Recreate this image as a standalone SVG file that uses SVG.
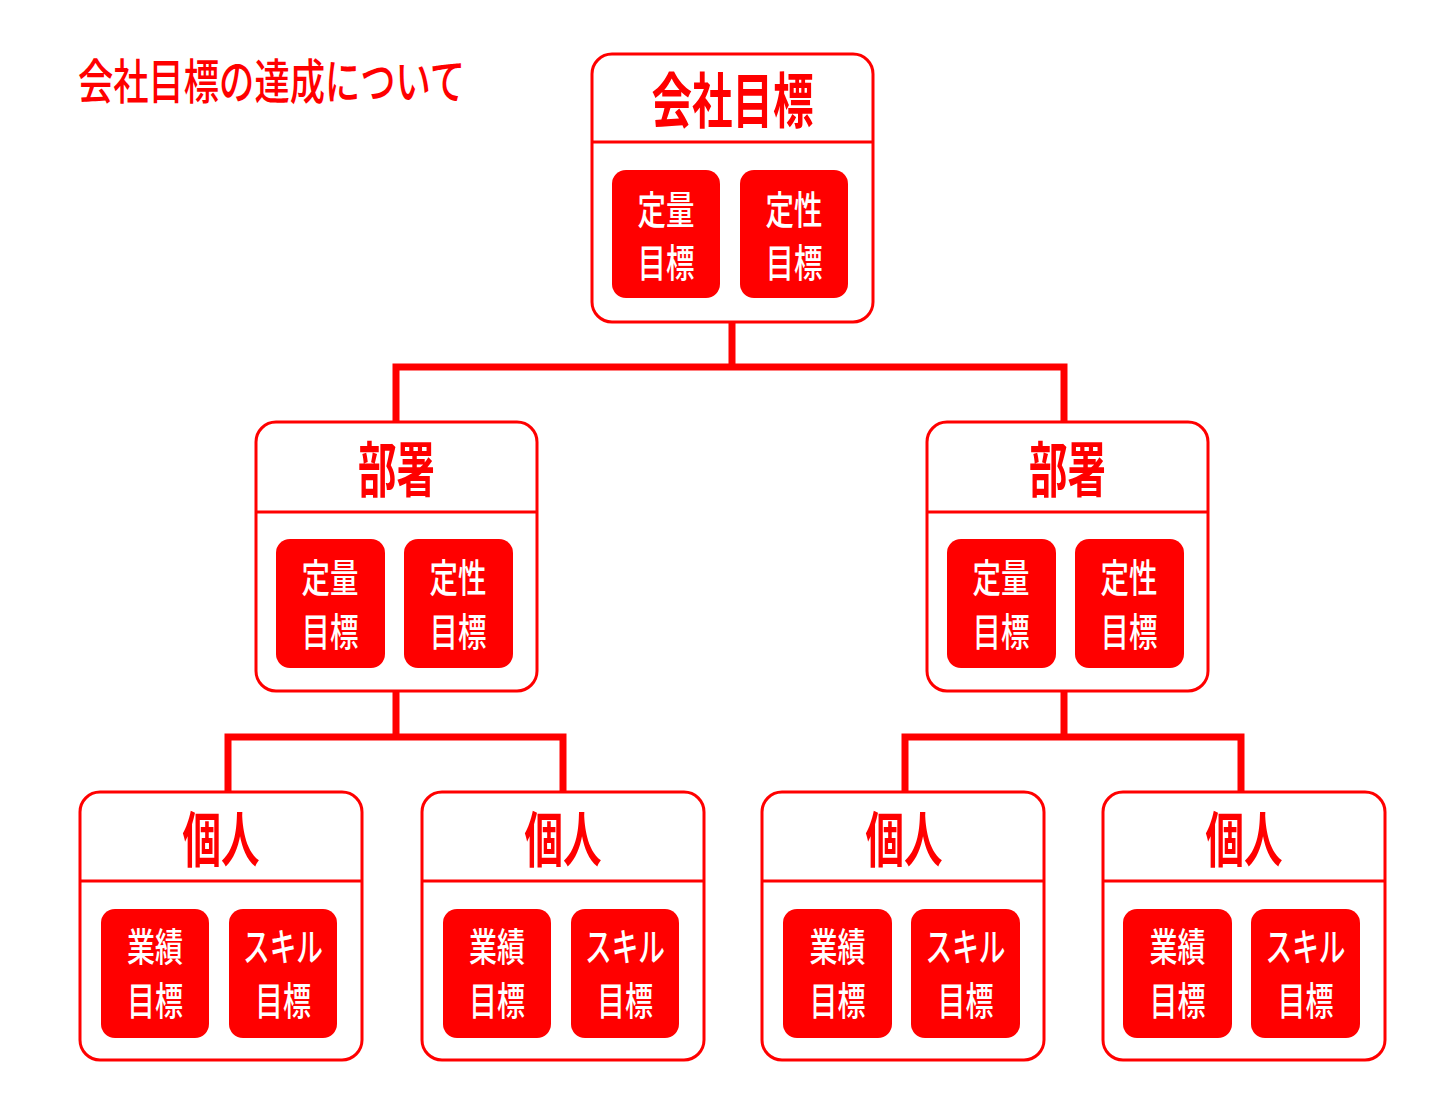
<svg xmlns="http://www.w3.org/2000/svg" width="1440" height="1111" viewBox="0 0 1440 1111">
<style>
.frame{fill:#fff;stroke:#ff0000;stroke-width:3}
.div{stroke:#ff0000;stroke-width:3}
.pill{fill:#ff0000}
.ttl{font-family:"Noto Sans CJK JP","Noto Sans CJK SC",sans-serif;font-size:60px;font-weight:600;fill:#ff0000;text-anchor:middle;dominant-baseline:central}
.in{font-family:"Noto Sans CJK JP","Noto Sans CJK SC",sans-serif;font-size:39px;font-weight:500;fill:#fff;text-anchor:middle;dominant-baseline:central}
.head{font-family:"Noto Sans CJK JP","Noto Sans CJK SC",sans-serif;font-size:48px;font-weight:500;fill:#ff0000;dominant-baseline:central}
.conn{fill:none;stroke:#ff0000;stroke-width:7}
</style>
<rect width="1440" height="1111" fill="#fff"/>
<text class="head" x="78" y="78" textLength="387" lengthAdjust="spacingAndGlyphs">会社目標の達成について</text>

<g id="connectors">
<path class="conn" d="M732 322V367M396 422V367H1064V422"/>
<path class="conn" d="M396 691V737M228 792V737H563V792"/>
<path class="conn" d="M1064 691V737M905 792V737H1241V792"/>
</g>

<g id="company">
<rect class="frame" x="592" y="54" width="281" height="268" rx="20"/>
<line class="div" x1="592" y1="142" x2="873" y2="142"/>
<text class="ttl" x="732.5" y="96" textLength="162" lengthAdjust="spacingAndGlyphs">会社目標</text>
<rect class="pill" x="612" y="170" width="108" height="128" rx="14"/>
<rect class="pill" x="740" y="170" width="108" height="128" rx="14"/>
<text class="in" x="666" y="207" textLength="57" lengthAdjust="spacingAndGlyphs">定量</text>
<text class="in" x="666" y="260" textLength="57" lengthAdjust="spacingAndGlyphs">目標</text>
<text class="in" x="794" y="207" textLength="57" lengthAdjust="spacingAndGlyphs">定性</text>
<text class="in" x="794" y="260" textLength="57" lengthAdjust="spacingAndGlyphs">目標</text>
</g>

<g id="dept-left">
<rect class="frame" x="256" y="422" width="281" height="269" rx="20"/>
<line class="div" x1="256" y1="512" x2="537" y2="512"/>
<text class="ttl" x="396.5" y="465" textLength="77" lengthAdjust="spacingAndGlyphs">部署</text>
<rect class="pill" x="276" y="539" width="109" height="129" rx="14"/>
<rect class="pill" x="404" y="539" width="109" height="129" rx="14"/>
<text class="in" x="330" y="575" textLength="57" lengthAdjust="spacingAndGlyphs">定量</text>
<text class="in" x="330" y="629" textLength="57" lengthAdjust="spacingAndGlyphs">目標</text>
<text class="in" x="458" y="575" textLength="57" lengthAdjust="spacingAndGlyphs">定性</text>
<text class="in" x="458" y="629" textLength="57" lengthAdjust="spacingAndGlyphs">目標</text>
</g>

<g id="dept-right">
<rect class="frame" x="927" y="422" width="281" height="269" rx="20"/>
<line class="div" x1="927" y1="512" x2="1208" y2="512"/>
<text class="ttl" x="1067.5" y="465" textLength="77" lengthAdjust="spacingAndGlyphs">部署</text>
<rect class="pill" x="947" y="539" width="109" height="129" rx="14"/>
<rect class="pill" x="1075" y="539" width="109" height="129" rx="14"/>
<text class="in" x="1001" y="575" textLength="57" lengthAdjust="spacingAndGlyphs">定量</text>
<text class="in" x="1001" y="629" textLength="57" lengthAdjust="spacingAndGlyphs">目標</text>
<text class="in" x="1129" y="575" textLength="57" lengthAdjust="spacingAndGlyphs">定性</text>
<text class="in" x="1129" y="629" textLength="57" lengthAdjust="spacingAndGlyphs">目標</text>
</g>

<g id="person-1">
<rect class="frame" x="80" y="792" width="282" height="268" rx="20"/>
<line class="div" x1="80" y1="881" x2="362" y2="881"/>
<text class="ttl" x="221" y="835" textLength="77" lengthAdjust="spacingAndGlyphs">個人</text>
<rect class="pill" x="101" y="909" width="108" height="129" rx="14"/>
<rect class="pill" x="229" y="909" width="108" height="129" rx="14"/>
<text class="in" x="155" y="944" textLength="56" lengthAdjust="spacingAndGlyphs">業績</text>
<text class="in" x="155" y="998" textLength="56" lengthAdjust="spacingAndGlyphs">目標</text>
<text class="in" x="283" y="944" textLength="80" lengthAdjust="spacingAndGlyphs">スキル</text>
<text class="in" x="283" y="998" textLength="56" lengthAdjust="spacingAndGlyphs">目標</text>
</g>

<g id="person-2">
<rect class="frame" x="422" y="792" width="282" height="268" rx="20"/>
<line class="div" x1="422" y1="881" x2="704" y2="881"/>
<text class="ttl" x="563" y="835" textLength="77" lengthAdjust="spacingAndGlyphs">個人</text>
<rect class="pill" x="443" y="909" width="108" height="129" rx="14"/>
<rect class="pill" x="571" y="909" width="108" height="129" rx="14"/>
<text class="in" x="497" y="944" textLength="56" lengthAdjust="spacingAndGlyphs">業績</text>
<text class="in" x="497" y="998" textLength="56" lengthAdjust="spacingAndGlyphs">目標</text>
<text class="in" x="625" y="944" textLength="80" lengthAdjust="spacingAndGlyphs">スキル</text>
<text class="in" x="625" y="998" textLength="56" lengthAdjust="spacingAndGlyphs">目標</text>
</g>

<g id="person-3">
<rect class="frame" x="762" y="792" width="282" height="268" rx="20"/>
<line class="div" x1="762" y1="881" x2="1044" y2="881"/>
<text class="ttl" x="904" y="835" textLength="77" lengthAdjust="spacingAndGlyphs">個人</text>
<rect class="pill" x="783" y="909" width="109" height="129" rx="14"/>
<rect class="pill" x="911" y="909" width="109" height="129" rx="14"/>
<text class="in" x="837.5" y="944" textLength="56" lengthAdjust="spacingAndGlyphs">業績</text>
<text class="in" x="837.5" y="998" textLength="56" lengthAdjust="spacingAndGlyphs">目標</text>
<text class="in" x="965.5" y="944" textLength="80" lengthAdjust="spacingAndGlyphs">スキル</text>
<text class="in" x="965.5" y="998" textLength="56" lengthAdjust="spacingAndGlyphs">目標</text>
</g>

<g id="person-4">
<rect class="frame" x="1103" y="792" width="282" height="268" rx="20"/>
<line class="div" x1="1103" y1="881" x2="1385" y2="881"/>
<text class="ttl" x="1244" y="835" textLength="77" lengthAdjust="spacingAndGlyphs">個人</text>
<rect class="pill" x="1123" y="909" width="109" height="129" rx="14"/>
<rect class="pill" x="1251" y="909" width="109" height="129" rx="14"/>
<text class="in" x="1177.5" y="944" textLength="56" lengthAdjust="spacingAndGlyphs">業績</text>
<text class="in" x="1177.5" y="998" textLength="56" lengthAdjust="spacingAndGlyphs">目標</text>
<text class="in" x="1305.5" y="944" textLength="80" lengthAdjust="spacingAndGlyphs">スキル</text>
<text class="in" x="1305.5" y="998" textLength="56" lengthAdjust="spacingAndGlyphs">目標</text>
</g>
</svg>
